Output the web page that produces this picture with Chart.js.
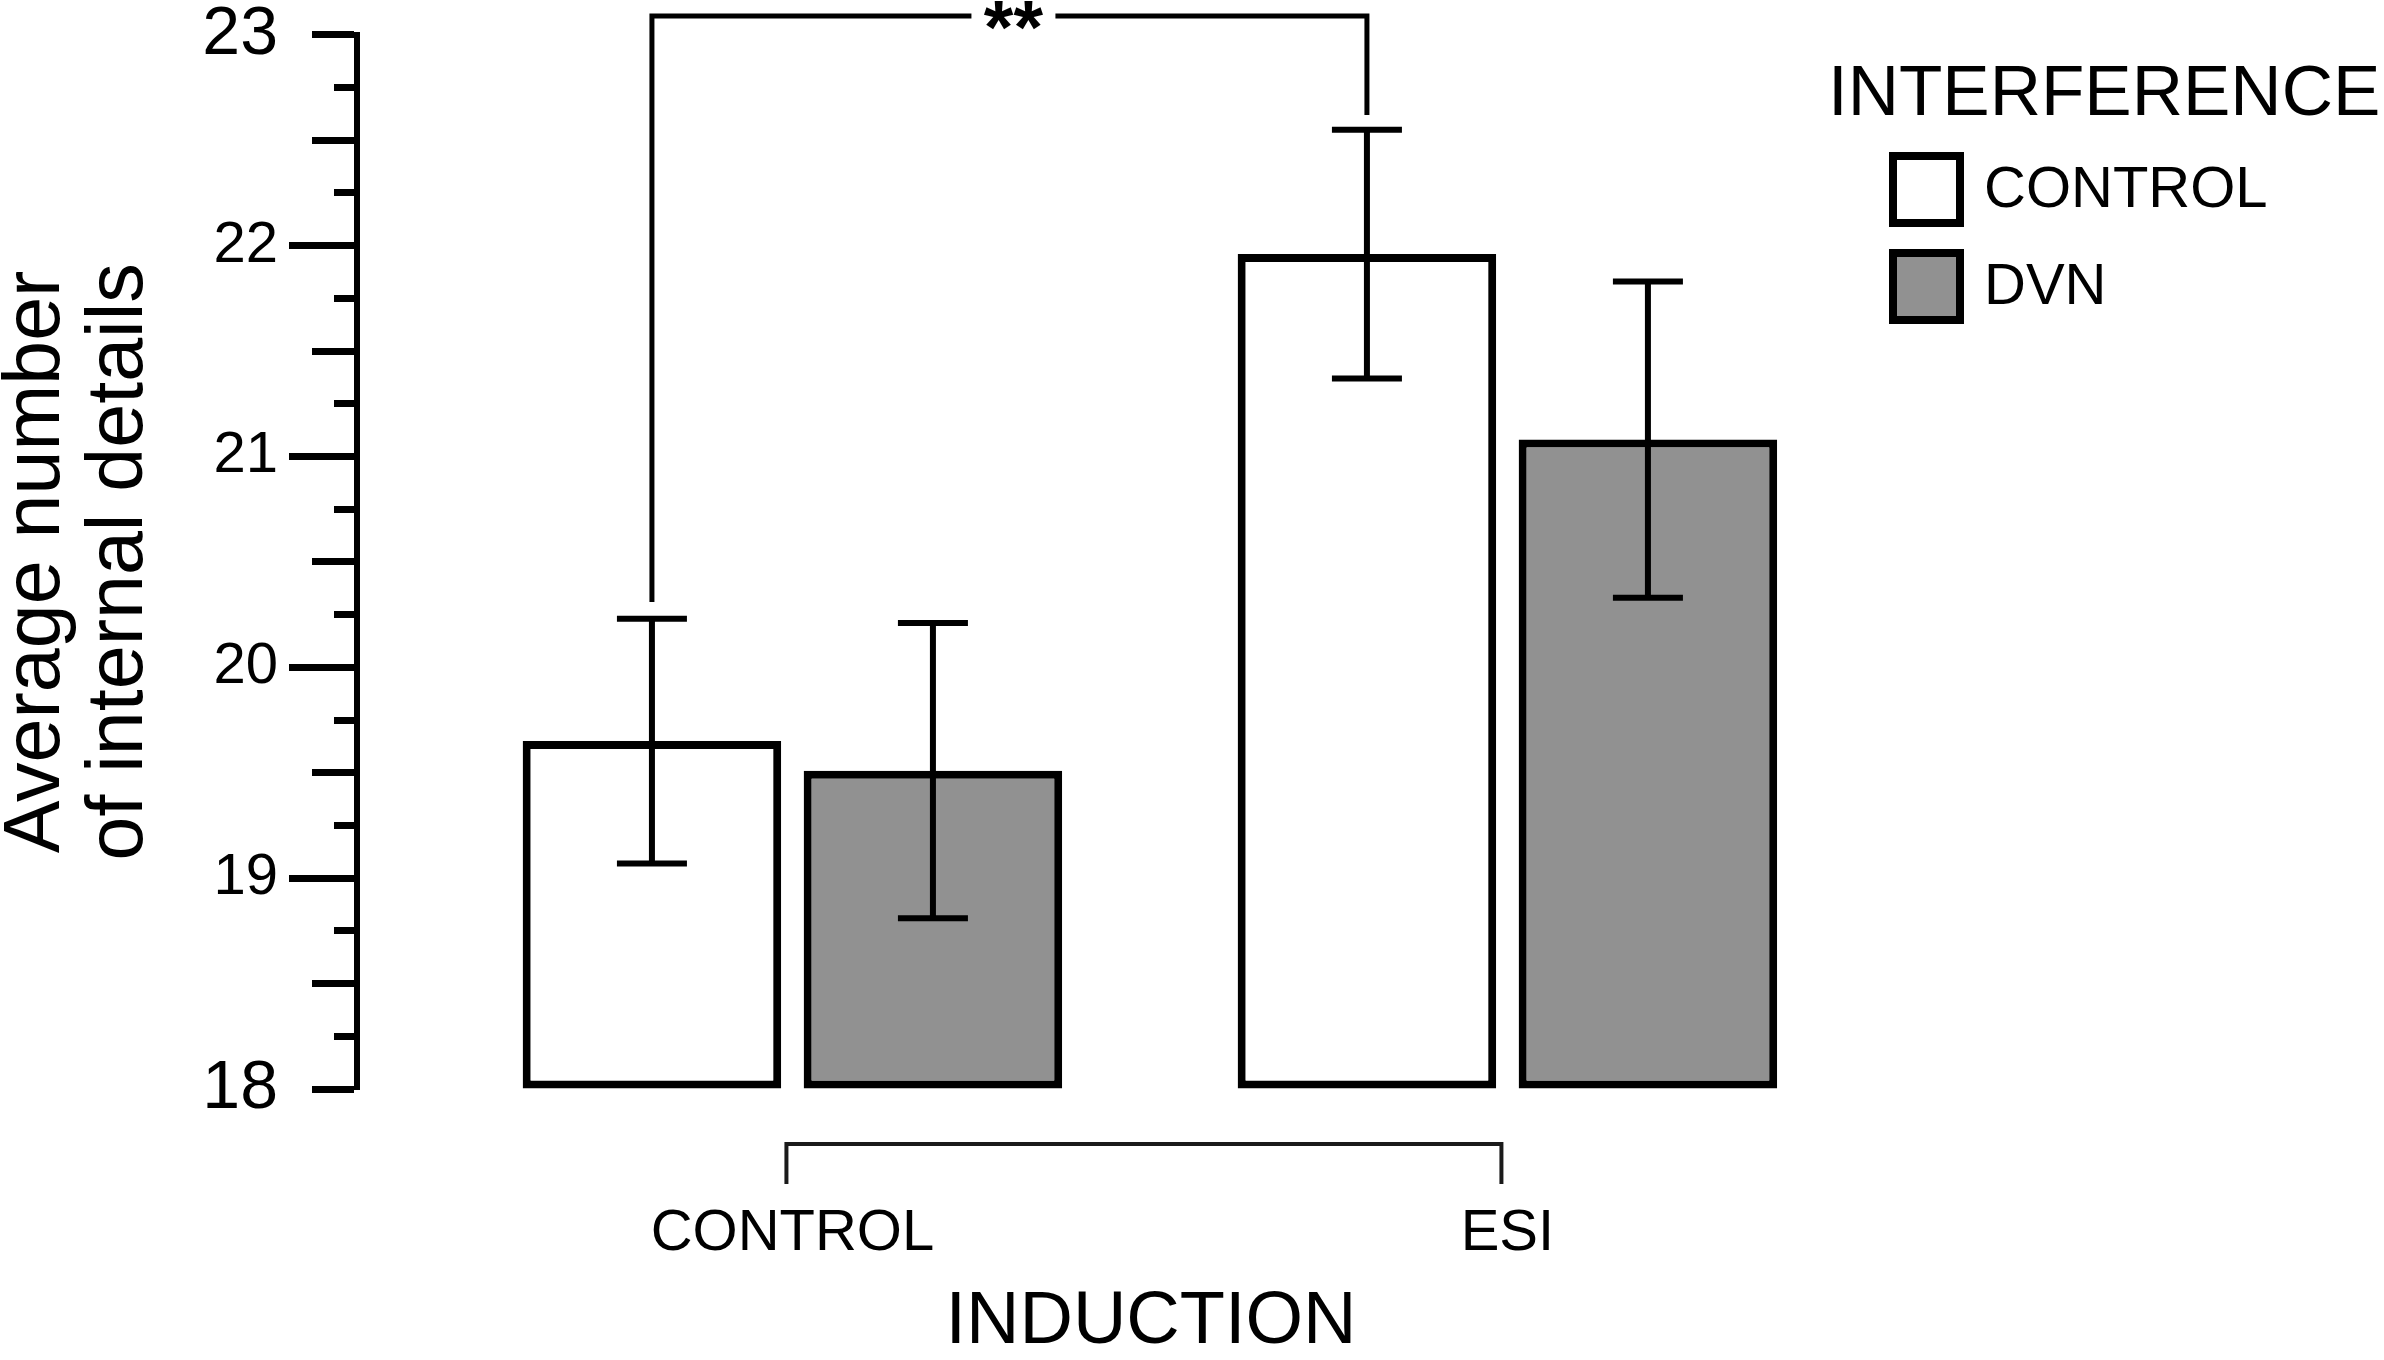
<!DOCTYPE html>
<html>
<head>
<meta charset="utf-8">
<title>Internal details by induction and interference</title>
<script src="https://cdn.jsdelivr.net/npm/chart.js@4.4.0/dist/chart.umd.min.js"></script>
<style>
    html, body { margin: 0; padding: 0; background: #ffffff; }
    #wrap { width: 2384px; height: 1360px; }
</style>
</head>
<body>
<div id="wrap"><canvas id="chartCanvas" width="2384" height="1360"></canvas></div>
<script>
// categories on the x axis and the two interference series
const induction = ['CONTROL', 'ESI'];
const interference = ['CONTROL', 'DVN'];

// bar heights and error bar half-lengths
const controlMeans = [19.65, 21.96];
const controlErrors = [0.58, 0.59];
const dvnMeans = [19.51, 21.08];
const dvnErrors = [0.70, 0.75];

// significance bracket: [series, category] at each end
const sigFrom = [0, 0];
const sigTo = [0, 1];
const sigLabel = '**';

const FONT = "'Liberation Sans', Arial, Helvetica, sans-serif";
const seriesMeans = [controlMeans, dvnMeans];
const seriesErrors = [controlErrors, dvnErrors];
const fills = ['#ffffff', '#919191'];

const TICK_LEN = 68;

function tickDash(value) {
    // long ticks on the inner integers, medium on halves and the ends, short on quarters
    let len = 23;
    if (Number.isInteger(value)) {
        len = (value === 18 || value === 23) ? 45 : TICK_LEN;
    } else if (Math.abs(value % 1 - 0.5) < 1e-6) {
        len = 45;
    }
    if (len === TICK_LEN) return [];
    return [0, TICK_LEN - len, len, 1000];
}

const errorBars = {
    id: 'errorBars',
    afterDatasetsDraw(chart) {
        const ctx = chart.ctx;
        const y = chart.scales.y;
        ctx.save();
        ctx.strokeStyle = '#000';
        ctx.lineWidth = 6;
        chart.data.datasets.forEach((ds, k) => {
            const meta = chart.getDatasetMeta(k);
            meta.data.forEach((bar, i) => {
                const v = ds.data[i].y;
                const e = seriesErrors[k][i];
                const top = y.getPixelForValue(v + e);
                const bot = y.getPixelForValue(v - e);
                ctx.beginPath();
                ctx.moveTo(bar.x, top);
                ctx.lineTo(bar.x, bot);
                ctx.moveTo(bar.x - 35, top);
                ctx.lineTo(bar.x + 35, top);
                ctx.moveTo(bar.x - 35, bot);
                ctx.lineTo(bar.x + 35, bot);
                ctx.stroke();
            });
        });
        ctx.restore();
    },
    afterDraw(chart) {
        const ctx = chart.ctx;
        const x = chart.scales.x;
        const y = chart.scales.y;

        // significance bracket over the two CONTROL-interference bars
        const a = chart.getDatasetMeta(sigFrom[0]).data[sigFrom[1]];
        const b = chart.getDatasetMeta(sigTo[0]).data[sigTo[1]];
        const aTop = seriesMeans[sigFrom[0]][sigFrom[1]] + seriesErrors[sigFrom[0]][sigFrom[1]];
        const bTop = seriesMeans[sigTo[0]][sigTo[1]] + seriesErrors[sigTo[0]][sigTo[1]];
        const topY = 16;
        const mid = (a.x + b.x) / 2;
        ctx.save();
        ctx.strokeStyle = '#000';
        ctx.lineWidth = 5;
        ctx.beginPath();
        ctx.moveTo(a.x, y.getPixelForValue(aTop + 0.08));
        ctx.lineTo(a.x, topY);
        ctx.lineTo(mid - 38, topY);
        ctx.moveTo(mid + 46, topY);
        ctx.lineTo(b.x, topY);
        ctx.lineTo(b.x, y.getPixelForValue(bTop + 0.07));
        ctx.stroke();
        ctx.fillStyle = '#000';
        ctx.font = 'bold 76px ' + FONT;
        ctx.textAlign = 'center';
        ctx.textBaseline = 'middle';
        ctx.fillText(sigLabel, mid + 4, topY + 16);

        // bracket joining the induction groups
        const x0 = x.getPixelForValue(0) - 6;
        const x1 = x.getPixelForValue(induction.length - 1) - 6;
        const by = y.bottom + 55;
        ctx.strokeStyle = '#1a1a1a';
        ctx.lineWidth = 4;
        ctx.beginPath();
        ctx.moveTo(x0, by + 40);
        ctx.lineTo(x0, by);
        ctx.lineTo(x1, by);
        ctx.lineTo(x1, by + 40);
        ctx.stroke();

        // legend: title, then a bordered swatch per interference series
        ctx.fillStyle = '#000';
        ctx.textAlign = 'left';
        ctx.textBaseline = 'middle';
        ctx.font = '71px ' + FONT;
        ctx.fillText('INTERFERENCE', 1828, 95);
        ctx.font = '58px ' + FONT;
        ctx.lineWidth = 8;
        ctx.strokeStyle = '#000';
        chart.data.datasets.forEach((ds, k) => {
            const top = 156 + k * 97;
            ctx.fillStyle = ds.backgroundColor;
            ctx.fillRect(1893, top, 67, 67);
            ctx.strokeRect(1893, top, 67, 67);
            ctx.fillStyle = '#000';
            ctx.fillText(ds.label, 1984, top + 35);
        });
        ctx.restore();
    }
};

const datasets = interference.map((name, k) => ({
    label: name,
    data: seriesMeans[k].map((v, i) => ({ x: i, y: v })),
    base: 18,
    backgroundColor: fills[k],
    borderColor: '#000',
    borderWidth: 8,
    borderSkipped: false,
    categoryPercentage: 0.786,
    barPercentage: 0.92
}));

const ctx = document.getElementById('chartCanvas').getContext('2d');
const chartInstance = new Chart(ctx, {
    type: 'bar',
    data: { datasets: datasets },
    plugins: [errorBars],
    options: {
        responsive: false,
        animation: false,
        devicePixelRatio: 1,
        layout: { padding: { left: 0, top: 26, right: 439, bottom: 0 } },
        plugins: {
            tooltip: { enabled: false },
            legend: { display: false }
        },
        scales: {
            x: {
                type: 'linear',
                offset: false,
                min: -0.609,
                max: 1.612,
                afterBuildTicks: (scale) => {
                    scale.ticks = induction.map((_, i) => ({ value: i }));
                },
                afterFit: (scale) => { scale.height = 271; },
                ticks: {
                    autoSkip: false,
                    maxRotation: 0,
                    padding: 102,
                    color: '#000',
                    font: { family: FONT, size: 58 },
                    callback: (v) => induction[v]
                },
                grid: { display: false },
                border: { display: false },
                title: {
                    display: true,
                    text: 'INDUCTION',
                    color: '#000',
                    font: { family: FONT, size: 74, lineHeight: 1 },
                    padding: { top: 20, bottom: 0 }
                }
            },
            y: {
                min: 18,
                max: 23,
                afterFit: (scale) => { scale.width = 357; },
                ticks: {
                    stepSize: 0.25,
                    autoSkip: false,
                    padding: 11,
                    color: '#000',
                    font: (c) => ({
                        family: FONT,
                        size: (c.tick && (c.tick.value === 18 || c.tick.value === 23)) ? 68 : 58,
                        lineHeight: 0.7
                    }),
                    callback: (v) => Number.isInteger(v) ? String(v) : ''
                },
                grid: {
                    drawOnChartArea: false,
                    tickLength: TICK_LEN,
                    tickWidth: 7,
                    tickColor: '#000',
                    tickBorderDash: (c) => c.tick ? tickDash(c.tick.value) : []
                },
                border: { display: true, width: 6, color: '#000' },
                title: {
                    display: true,
                    text: ['Average number', 'of internal details'],
                    color: '#000',
                    font: { family: FONT, size: 79, lineHeight: 1.05 },
                    padding: { top: -4, bottom: 0 }
                }
            }
        }
    }
});
</script>
</body>
</html>
